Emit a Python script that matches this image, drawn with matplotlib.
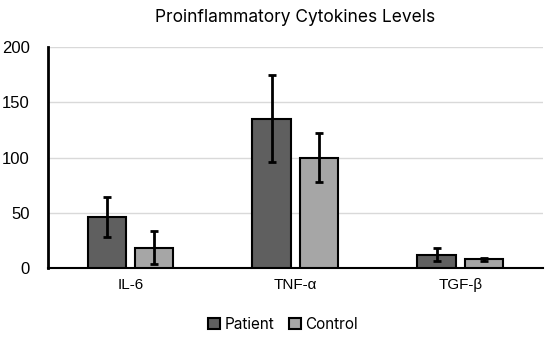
import numpy as np
import matplotlib.pyplot as plt

plt.rcParams['font.family'] = ['Liberation Sans', 'DejaVu Sans']

categories = ['IL-6', 'TNF-α', 'TGF-β']
patient = [46, 135, 12]
patient_err = [18, 39.5, 6]
control = [18.5, 100, 8]
control_err = [15, 22, 1.5]

x = np.arange(len(categories))
w = 0.233
off = 0.144

fig = plt.figure(figsize=(5.5, 3.37), dpi=100)
ax = fig.add_axes([0.0873, 0.2047, 0.8995, 0.6558])

err_kw = dict(ecolor='black', elinewidth=2, capsize=3, capthick=2)
ax.bar(x - off, patient, w, yerr=patient_err, color='#5f5f5f',
       edgecolor='black', linewidth=1.5, label='Patient', error_kw=err_kw, zorder=3)
ax.bar(x + off, control, w, yerr=control_err, color='#a6a6a6',
       edgecolor='black', linewidth=1.5, label='Control', error_kw=err_kw, zorder=3)

ax.set_xlim(-0.5, 2.5)
ax.set_ylim(0, 200)
ax.set_yticks([0, 50, 100, 150, 200])
ax.set_xticks(x)
ax.set_xticklabels(categories)
ax.tick_params(axis='y', length=0, labelsize=12, pad=13)
ax.tick_params(axis='x', length=0, labelsize=11, pad=7)
ax.grid(axis='y', color='#d9d9d9', linewidth=1, zorder=0)
for s in ['top', 'right']:
    ax.spines[s].set_visible(False)
ax.spines['left'].set_linewidth(2)
ax.spines['bottom'].set_linewidth(1.5)

ax.set_title('Proinflammatory Cytokines Levels', fontsize=12.5, pad=18,
             family=['Inter', 'DejaVu Sans'])
fig.legend(loc='lower center', bbox_to_anchor=(0.515, -0.025), ncol=2, frameon=False,
           prop={'family': ['Inter', 'DejaVu Sans'], 'size': 11},
           handlelength=0.75, handleheight=0.75, handletextpad=0.3,
           columnspacing=1.0)

fig.savefig('out.png', dpi=100)
